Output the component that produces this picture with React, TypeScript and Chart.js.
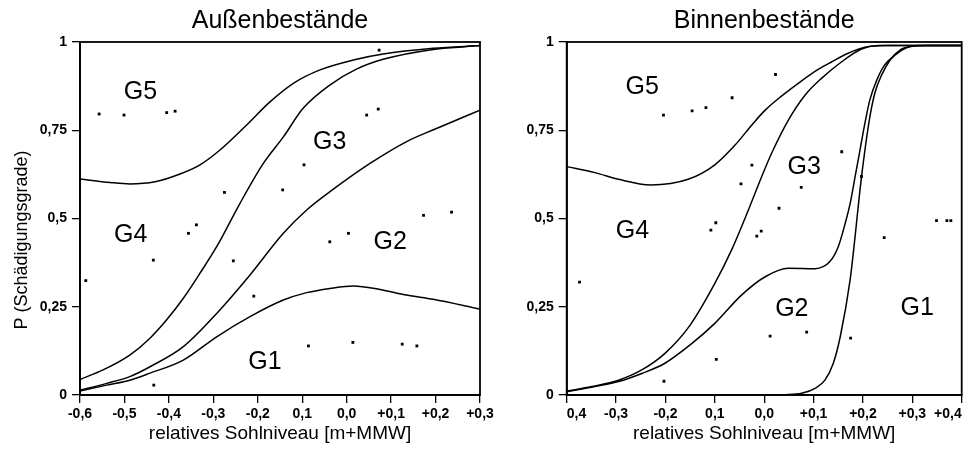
import { useEffect, useRef } from "react";
import { Chart, registerables, ChartConfiguration, Plugin } from "chart.js";

Chart.register(...registerables);
Chart.defaults.font.family = "'Liberation Sans', Arial, sans-serif";
Chart.defaults.color = "#000";

const FONT = "'Liberation Sans', Arial, sans-serif";

// shared y axis
const yTickValues = [0, 0.25, 0.5, 0.75, 1];
const yTickLabels = ["0", "0,25", "0,5", "0,75", "1"];
const yTitle = "P (Schädigungsgrade)";
const xTitle = "relatives Sohlniveau [m+MMW]";

// Außenbestände
const aussenTickValues = [-0.6, -0.5, -0.4, -0.3, -0.2, -0.1, 0, 0.1, 0.2, 0.3];
const aussenTickLabels = ["-0,6", "-0,5", "-0,4", "-0,3", "-0,2", "0,1", "0,0", "+0,1", "+0,2", "+0,3"];

const aussenG5G4 = [[-0.6, 0.612], [-0.532, 0.602], [-0.488, 0.598], [-0.431, 0.604], [-0.375, 0.626], [-0.33, 0.652], [-0.285, 0.694], [-0.225, 0.765], [-0.172, 0.831], [-0.12, 0.883], [-0.06, 0.921], [0.015, 0.949], [0.082, 0.966], [0.195, 0.982], [0.3, 0.99]];
const aussenG4G3 = [[-0.6, 0.044], [-0.548, 0.071], [-0.488, 0.113], [-0.4425, 0.161], [-0.405, 0.213], [-0.3675, 0.274], [-0.33, 0.345], [-0.2925, 0.42], [-0.24, 0.543], [-0.1875, 0.656], [-0.142, 0.732], [-0.098, 0.812], [-0.038, 0.878], [0.022, 0.923], [0.082, 0.951], [0.195, 0.979], [0.3, 0.99]];
const aussenG3G2 = [[-0.6, 0.014], [-0.54, 0.033], [-0.488, 0.052], [-0.4425, 0.08], [-0.3675, 0.137], [-0.2925, 0.231], [-0.2175, 0.34], [-0.1425, 0.458], [-0.09, 0.524], [-0.0375, 0.576], [0.0525, 0.656], [0.135, 0.718], [0.202, 0.755], [0.3, 0.807]];
const aussenG2G1 = [[-0.6, 0.011], [-0.54, 0.028], [-0.488, 0.042], [-0.4425, 0.062], [-0.3675, 0.099], [-0.2925, 0.165], [-0.2175, 0.222], [-0.1425, 0.269], [-0.09, 0.29], [-0.0375, 0.302], [0.015, 0.309], [0.075, 0.299], [0.135, 0.283], [0.195, 0.271], [0.3, 0.243]];
const aussenPunkte = [[-0.557, 0.796], [-0.501, 0.793], [-0.405, 0.8], [-0.386, 0.804], [0.073, 0.977], [0.045, 0.793], [0.071, 0.81], [-0.096, 0.652], [-0.144, 0.581], [-0.275, 0.574], [-0.338, 0.482], [-0.356, 0.458], [-0.435, 0.382], [-0.255, 0.38], [-0.587, 0.324], [-0.209, 0.28], [-0.038, 0.434], [0.004, 0.458], [0.173, 0.509], [0.236, 0.518], [-0.086, 0.139], [0.014, 0.149], [0.125, 0.144], [0.158, 0.139], [-0.434, 0.028]];
const aussenGrade = ["G5", "G3", "G4", "G2", "G1"];
const aussenGradePos = [[-0.464, 0.864], [-0.038, 0.722], [-0.486, 0.458], [0.098, 0.439], [-0.184, 0.099]];

// Binnenbestände
const binnenTickValues = [-0.4, -0.3, -0.2, -0.1, 0, 0.1, 0.2, 0.3, 0.4];
const binnenTickLabels = ["0,4", "-0,3", "-0,2", "0,1", "0,0", "+0,1", "+0,2", "+0,3", "+0,4"];

const binnenG5G4 = [[-0.4, 0.647], [-0.343, 0.63], [-0.295, 0.611], [-0.23, 0.595], [-0.154, 0.611], [-0.1, 0.652], [-0.059, 0.708], [-0.025, 0.765], [0.002, 0.807], [0.029, 0.84], [0.069, 0.883], [0.11, 0.923], [0.137, 0.944], [0.17, 0.968], [0.204, 0.985], [0.245, 0.99], [0.4, 0.99]];
const binnenG4G3 = [[-0.4, 0.011], [-0.349, 0.024], [-0.295, 0.042], [-0.248, 0.071], [-0.201, 0.118], [-0.15, 0.198], [-0.1, 0.316], [-0.066, 0.411], [-0.032, 0.524], [-0.005, 0.619], [0.015, 0.685], [0.049, 0.779], [0.083, 0.85], [0.116, 0.897], [0.157, 0.944], [0.197, 0.98], [0.231, 0.99], [0.4, 0.99]];
const binnenG3G2 = [[-0.4, 0.009], [-0.343, 0.024], [-0.295, 0.038], [-0.248, 0.061], [-0.201, 0.09], [-0.15, 0.142], [-0.1, 0.203], [-0.046, 0.283], [0.002, 0.335], [0.049, 0.359], [0.103, 0.358], [0.133, 0.378], [0.15, 0.42], [0.164, 0.486], [0.174, 0.542], [0.184, 0.618], [0.194, 0.694], [0.204, 0.77], [0.214, 0.836], [0.228, 0.892], [0.244, 0.935], [0.261, 0.958], [0.28, 0.978], [0.31, 0.99], [0.4, 0.99]];
const binnenG2G1 = [[0.0, 0], [0.042, 0.001], [0.076, 0.005], [0.103, 0.019], [0.123, 0.042], [0.14, 0.09], [0.154, 0.165], [0.174, 0.326], [0.184, 0.448], [0.194, 0.581], [0.204, 0.694], [0.214, 0.788], [0.224, 0.855], [0.238, 0.907], [0.255, 0.949], [0.275, 0.977], [0.301, 0.988], [0.33, 0.99], [0.4, 0.99]];
const binnenPunkte = [[-0.204, 0.793], [-0.146, 0.805], [-0.118, 0.814], [-0.065, 0.842], [0.023, 0.908], [-0.025, 0.651], [-0.047, 0.598], [0.075, 0.588], [0.157, 0.689], [0.197, 0.619], [0.03, 0.529], [-0.098, 0.488], [-0.108, 0.467], [-0.006, 0.464], [-0.015, 0.45], [0.243, 0.446], [0.349, 0.494], [0.37, 0.494], [0.378, 0.494], [-0.374, 0.32], [0.012, 0.167], [0.086, 0.178], [0.175, 0.161], [-0.097, 0.101], [-0.203, 0.039]];
const binnenGrade = ["G5", "G3", "G4", "G2", "G1"];
const binnenGradePos = [[-0.247, 0.878], [0.081, 0.652], [-0.267, 0.47], [0.056, 0.248], [0.31, 0.252]];

interface PanelProps {
  title: string;
  tickValues: number[];
  tickLabels: string[];
  curves: number[][][];
  points: number[][];
  grades: string[];
  gradePos: number[][];
  showYTitle: boolean;
  yAxisWidth: number;
  padRight: number;
  tickAlign: "center" | "inner";
}

function Panel(props: PanelProps) {
  const canvasRef = useRef<HTMLCanvasElement>(null);
  const chartRef = useRef<Chart | null>(null);

  useEffect(() => {
    if (!canvasRef.current) return;
    if (chartRef.current) chartRef.current.destroy();

    const { title, tickValues, tickLabels, curves, points, grades, gradePos, showYTitle } = props;

    // frame, panel title, grade labels, y title
    const overlay: Plugin<"scatter"> = {
      id: "overlay",
      afterDraw(chart) {
        const { ctx, chartArea: a, scales } = chart;
        ctx.save();
        ctx.strokeStyle = "#000";
        ctx.lineWidth = 1.8;
        ctx.strokeRect(a.left, a.top, a.right - a.left, a.bottom - a.top);

        ctx.fillStyle = "#000";
        ctx.textAlign = "center";
        ctx.textBaseline = "alphabetic";
        ctx.font = `25px ${FONT}`;
        ctx.fillText(title, (a.left + a.right) / 2, 28);

        ctx.font = `25px ${FONT}`;
        grades.forEach((g, i) => {
          const px = scales.x.getPixelForValue(gradePos[i][0]);
          const py = scales.y.getPixelForValue(gradePos[i][1]);
          ctx.fillText(g, px, py + 9);
        });

        if (showYTitle) {
          ctx.translate(22, 240);
          ctx.rotate(-Math.PI / 2);
          ctx.textBaseline = "middle";
          ctx.font = `18px ${FONT}`;
          ctx.fillText(yTitle, 0, 0);
        }
        ctx.restore();
      },
    };

    const config: ChartConfiguration<"scatter"> = {
      type: "scatter",
      data: {
        datasets: [
          ...curves.map((c) => ({
            data: c.map(([x, y]) => ({ x, y })),
            showLine: true,
            pointRadius: 0,
            borderColor: "#000",
            borderWidth: 1.5,
            cubicInterpolationMode: "monotone" as const,
            fill: false,
          })),
          {
            data: points.map(([x, y]) => ({ x, y })),
            showLine: false,
            pointStyle: "rect" as const,
            pointRadius: 2,
            backgroundColor: "#000",
            borderWidth: 0,
          },
        ],
      },
      options: {
        animation: false,
        responsive: true,
        maintainAspectRatio: false,
        layout: { padding: { top: 42, right: props.padRight, left: 0, bottom: 0 } },
        plugins: {
          legend: { display: false },
          tooltip: { enabled: false },
          title: { display: false },
        },
        scales: {
          x: {
            type: "linear",
            min: tickValues[0],
            max: tickValues[tickValues.length - 1],
            afterBuildTicks: (s) => {
              s.ticks = tickValues.map((v) => ({ value: v }));
            },
            afterFit: (s) => {
              s.height = 57;
              s.paddingLeft = 0;
              s.paddingRight = 0;
            },
            ticks: {
              callback: (_v, i) => tickLabels[i],
              font: { size: 14, weight: "bold" },
              color: "#000",
              padding: 3,
              maxRotation: 0,
              autoSkip: false,
              align: props.tickAlign,
            },
            grid: { drawOnChartArea: false, drawTicks: true, tickLength: 8, color: "#000", lineWidth: 1.3 },
            border: { display: true, color: "#000", width: 1.8 },
            title: { display: true, text: xTitle, font: { size: 19 }, color: "#000", padding: { top: 0, bottom: 7 } },
          },
          y: {
            type: "linear",
            min: 0,
            max: 1,
            afterBuildTicks: (s) => {
              s.ticks = yTickValues.map((v) => ({ value: v }));
            },
            afterFit: (s) => {
              s.width = props.yAxisWidth;
            },
            ticks: {
              callback: (_v, i) => yTickLabels[i],
              font: { size: 14, weight: "bold" },
              color: "#000",
              padding: 5,
            },
            grid: { drawOnChartArea: false, drawTicks: true, tickLength: 8, color: "#000", lineWidth: 1.3 },
            border: { display: true, color: "#000", width: 1.8 },
          },
        },
      },
      plugins: [overlay],
    };

    chartRef.current = new Chart(canvasRef.current, config);
    return () => {
      if (chartRef.current) {
        chartRef.current.destroy();
        chartRef.current = null;
      }
    };
  }, []);

  return <canvas ref={canvasRef} />;
}

export default function App() {
  return (
    <div style={{ position: "fixed", left: 0, top: 0, width: 970, height: 452, background: "#fff" }}>
      <div style={{ position: "absolute", left: 0, top: 0, width: 500, height: 452 }}>
        <Panel
          title="Außenbestände"
          tickValues={aussenTickValues}
          tickLabels={aussenTickLabels}
          curves={[aussenG5G4, aussenG4G3, aussenG3G2, aussenG2G1]}
          points={aussenPunkte}
          grades={aussenGrade}
          gradePos={aussenGradePos}
          showYTitle={true}
          yAxisWidth={80}
          padRight={20}
          tickAlign="center"
        />
      </div>
      <div style={{ position: "absolute", left: 500, top: 0, width: 470, height: 452 }}>
        <Panel
          title="Binnenbestände"
          tickValues={binnenTickValues}
          tickLabels={binnenTickLabels}
          curves={[binnenG5G4, binnenG4G3, binnenG3G2, binnenG2G1]}
          points={binnenPunkte}
          grades={binnenGrade}
          gradePos={binnenGradePos}
          showYTitle={false}
          yAxisWidth={66.7}
          padRight={8.3}
          tickAlign="inner"
        />
      </div>
    </div>
  );
}
